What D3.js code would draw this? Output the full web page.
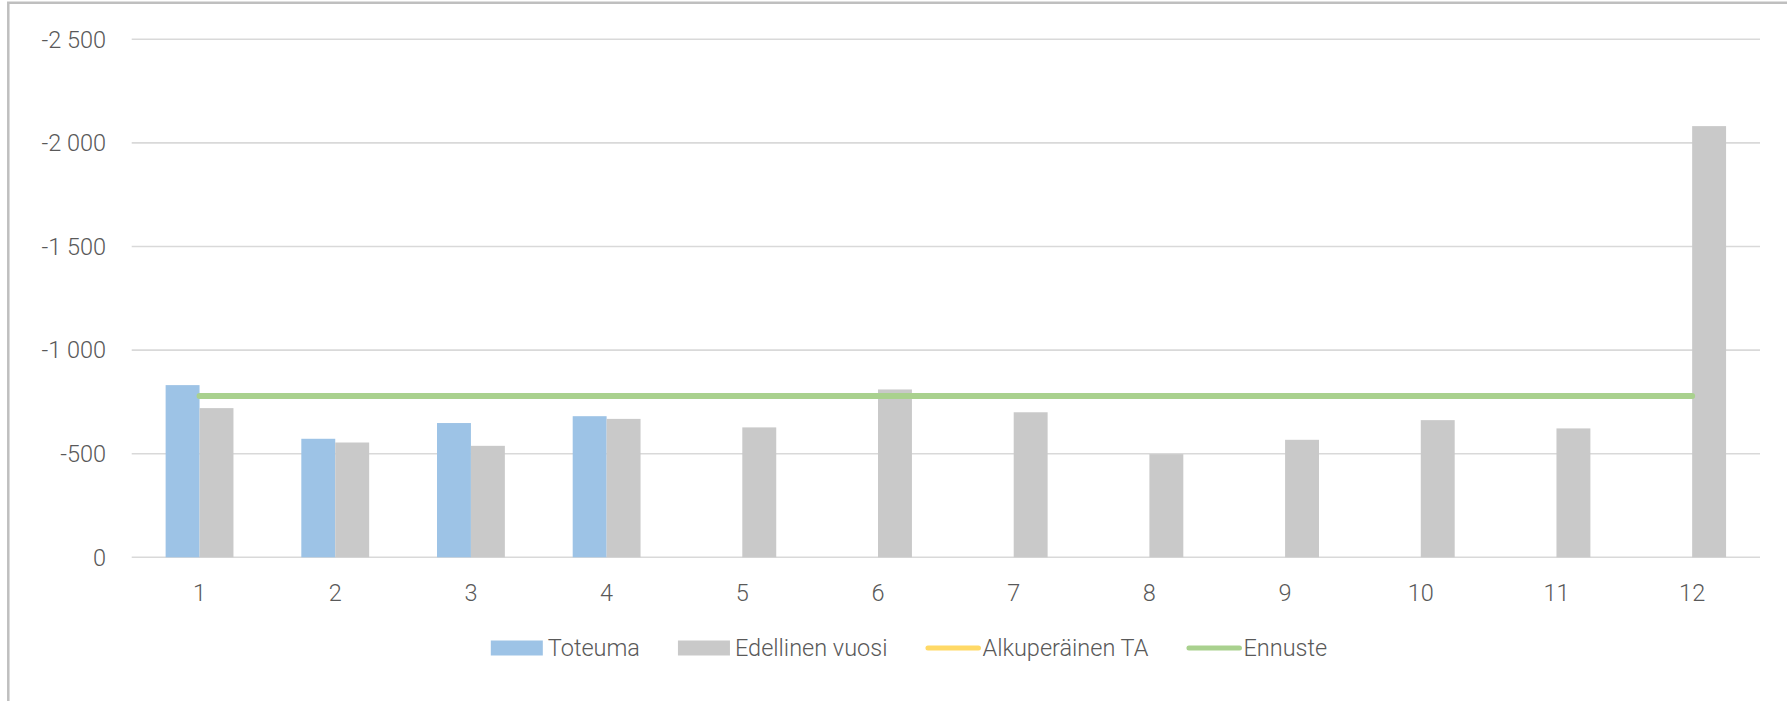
<!DOCTYPE html>
<html>
<head>
<meta charset="utf-8">
<script src="https://cdn.jsdelivr.net/npm/d3@7"></script>
<style>
  html, body { margin: 0; padding: 0; background: #fff; overflow: hidden; }
  svg { display: block; font-family: Roboto, "Noto Sans", sans-serif; font-weight: 300; }
</style>
</head>
<body>
<div class="chart-area"></div>
<script>
// months on the category axis
let months = ["1", "2", "3", "4", "5", "6", "7", "8", "9", "10", "11", "12"];
// values (negative, axis drawn reversed as in the source)
let toteuma = [-831, -572, -648, -681, null, null, null, null, null, null, null, null];
let edellinenVuosi = [-720, -554, -538, -668, -627, -810, -700, -498, -567, -662, -622, -2081];
let alkuperainenTA = [];
let ennuste = [-779, -779, -779, -779, -779, -779, -779, -779, -779, -779, -779, -779];
let yTicks = [0, -500, -1000, -1500, -2000, -2500];

let width = 1787, height = 701;
let plotLeft = 131.7, plotRight = 1760, plotTop = 39.3, plotBottom = 557.3;

let fmt = d3.formatLocale({decimal: ",", thousands: " ", grouping: [3], currency: ["", ""], minus: "-"}).format(",d");

let svg = d3.select("div.chart-area").append("svg")
  .attr("width", width)
  .attr("height", height);

// chart area border (only top and left edges are in view)
svg.append("path")
  .attr("d", "M8.3," + height + "V2.7H" + width)
  .attr("fill", "none")
  .attr("stroke", "#bfbfbf")
  .attr("stroke-width", 2.5);

let x = d3.scaleBand().domain(months).range([plotLeft, plotRight]).padding(0);
let series = ["toteuma", "edellinen"];
let xs = d3.scaleBand().domain(series).range([0, x.bandwidth()]).paddingInner(0).paddingOuter(1);
let y = d3.scaleLinear().domain([0, -2500]).range([plotBottom, plotTop]);

// gridlines
svg.append("g")
  .selectAll("line")
  .data(yTicks)
  .enter().append("line")
  .attr("x1", plotLeft).attr("x2", plotRight)
  .attr("y1", function(d) { return y(d); })
  .attr("y2", function(d) { return y(d); })
  .attr("stroke", "#d9d9d9")
  .attr("stroke-width", 1.6);

// y labels
svg.append("g")
  .selectAll("text")
  .data(yTicks)
  .enter().append("text")
  .attr("x", 106)
  .attr("y", function(d) { return y(d); })
  .attr("dy", "0.35em")
  .attr("text-anchor", "end")
  .attr("fill", "#595959")
  .style("font-size", "23.5px")
  .text(function(d) { return fmt(d); });

// x labels
svg.append("g")
  .selectAll("text")
  .data(months)
  .enter().append("text")
  .attr("x", function(d) { return x(d) + x.bandwidth() / 2; })
  .attr("y", 593)
  .attr("dy", "0.35em")
  .attr("text-anchor", "middle")
  .attr("fill", "#595959")
  .style("font-size", "23.5px")
  .text(function(d) { return d; });

let colors = {toteuma: "#9dc3e6", edellinen: "#c9c9c9", alkuperainen: "#ffd966", ennuste: "#a9d18e"};

let barData = [];
months.forEach(function(m, i) {
  if (toteuma[i] != null) barData.push({m: m, s: "toteuma", v: toteuma[i]});
  if (edellinenVuosi[i] != null) barData.push({m: m, s: "edellinen", v: edellinenVuosi[i]});
});

svg.append("g")
  .selectAll("rect")
  .data(barData)
  .enter().append("rect")
  .attr("x", function(d) { return x(d.m) + xs(d.s); })
  .attr("width", xs.bandwidth())
  .attr("y", function(d) { return y(d.v); })
  .attr("height", function(d) { return y(0) - y(d.v); })
  .attr("fill", function(d) { return colors[d.s]; });

// lines
let line = d3.line()
  .defined(function(d) { return d != null; })
  .x(function(d, i) { return x(months[i]) + x.bandwidth() / 2; })
  .y(function(d) { return y(d); });

svg.append("path")
  .datum(alkuperainenTA)
  .attr("d", line)
  .attr("fill", "none")
  .attr("stroke", colors.alkuperainen)
  .attr("stroke-width", 6)
  .attr("stroke-linecap", "round");

svg.append("path")
  .datum(ennuste)
  .attr("d", line)
  .attr("fill", "none")
  .attr("stroke", colors.ennuste)
  .attr("stroke-width", 6)
  .attr("stroke-linecap", "round");

// legend
let legendItems = [
  {label: "Toteuma", color: colors.toteuma, type: "bar"},
  {label: "Edellinen vuosi", color: colors.edellinen, type: "bar"},
  {label: "Alkuperäinen TA", color: colors.alkuperainen, type: "line"},
  {label: "Ennuste", color: colors.ennuste, type: "line"}
];
let legend = svg.append("g");
let lx = 0, ly = 648;
legendItems.forEach(function(it, i) {
  let g = legend.append("g").attr("transform", "translate(" + lx + ",0)");
  if (it.type === "bar") {
    g.append("rect").attr("x", 0).attr("y", ly - 7.5).attr("width", 52).attr("height", 15).attr("fill", it.color);
  } else {
    g.append("line").attr("x1", 2.5).attr("x2", 53).attr("y1", ly).attr("y2", ly)
      .attr("stroke", it.color).attr("stroke-width", 5).attr("stroke-linecap", "round");
  }
  let t = g.append("text")
    .attr("x", 57).attr("y", ly).attr("dy", "0.35em")
    .attr("fill", "#595959")
    .style("font-size", "23.5px")
    .text(it.label);
  lx += 57 + t.node().getComputedTextLength() + 38;
});
let legendWidth = lx - 38;
legend.attr("transform", "translate(" + (909 - legendWidth / 2) + ",0)");
</script>
</body>
</html>
